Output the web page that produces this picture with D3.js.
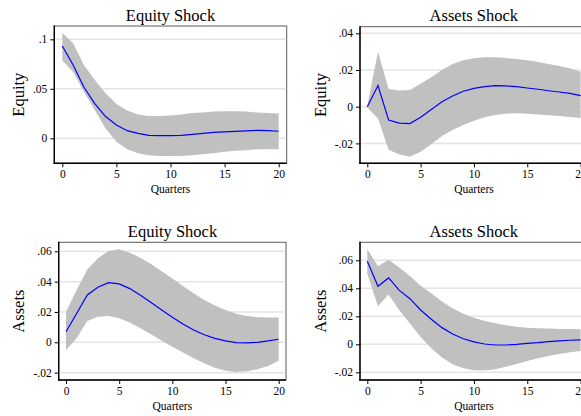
<!DOCTYPE html>
<html>
<head>
<meta charset="utf-8">
<script src="https://cdn.jsdelivr.net/npm/d3@7"></script>
<style>
  body { margin: 0; background: #fff; }
  svg { display: block; }
</style>
</head>
<body>
<svg id="chart" width="581" height="416"></svg>
<script>
// quarters after the shock
const quarters = [0, 1, 2, 3, 4, 5, 6, 7, 8, 9, 10, 11, 12, 13, 14, 15, 16, 17, 18, 19, 20];
const xTicks = [0, 5, 10, 15, 20];

// equity response to equity shock
const eqEqIrf = [0.0933, 0.074, 0.0515, 0.035, 0.022, 0.0135, 0.0077, 0.005, 0.003, 0.0027, 0.0027, 0.003, 0.004, 0.005, 0.006, 0.0064, 0.007, 0.0075, 0.008, 0.0077, 0.0071];
const eqEqHi = [0.1067, 0.096, 0.074, 0.059, 0.0455, 0.0347, 0.028, 0.024, 0.0225, 0.0225, 0.023, 0.024, 0.0256, 0.026, 0.027, 0.0273, 0.0273, 0.027, 0.026, 0.0256, 0.025];
const eqEqLo = [0.0785, 0.067, 0.047, 0.0286, 0.01, -0.0034, -0.011, -0.015, -0.017, -0.018, -0.018, -0.018, -0.017, -0.016, -0.015, -0.0135, -0.0125, -0.012, -0.011, -0.011, -0.011];

// equity response to assets shock
const eqAsIrf = [0, 0.0115, -0.0073, -0.0089, -0.0092, -0.0058, -0.0015, 0.0027, 0.0058, 0.0084, 0.01, 0.0109, 0.0115, 0.0113, 0.0109, 0.0102, 0.0095, 0.0087, 0.008, 0.0073, 0.006];
const eqAsHi = [0.0005, 0.030, 0.0097, 0.0088, 0.0091, 0.0125, 0.016, 0.02, 0.0233, 0.0253, 0.0264, 0.0269, 0.0269, 0.0265, 0.026, 0.0253, 0.0244, 0.0233, 0.0222, 0.0209, 0.019];
const eqAsLo = [-0.0005, -0.0064, -0.0235, -0.026, -0.0273, -0.0245, -0.0204, -0.016, -0.0127, -0.01, -0.0076, -0.0058, -0.0045, -0.0038, -0.0036, -0.0038, -0.0042, -0.0047, -0.0051, -0.0056, -0.0062];

// assets response to equity shock
const asEqIrf = [0.007, 0.019, 0.0312, 0.0363, 0.0393, 0.0385, 0.0354, 0.031, 0.0262, 0.0213, 0.0165, 0.0121, 0.0081, 0.005, 0.0026, 0.0009, -0.0002, -0.0004, 0, 0.0009, 0.002];
const asEqHi = [0.0202, 0.0345, 0.048, 0.0554, 0.0602, 0.0613, 0.0591, 0.0558, 0.0516, 0.0468, 0.042, 0.0371, 0.0323, 0.0279, 0.0242, 0.0213, 0.0189, 0.0174, 0.0165, 0.0163, 0.0163];
const asEqLo = [-0.005, 0.0026, 0.0141, 0.0169, 0.0174, 0.0158, 0.013, 0.0092, 0.0053, 0.0011, -0.0029, -0.0068, -0.0105, -0.0138, -0.0167, -0.0187, -0.0196, -0.0191, -0.0178, -0.0156, -0.0121];

// assets response to assets shock
const asAsIrf = [0.0593, 0.0414, 0.0474, 0.0385, 0.0326, 0.0245, 0.0179, 0.0119, 0.0074, 0.004, 0.0017, 0.0002, -0.0005, -0.0005, 0, 0.0007, 0.0012, 0.0019, 0.0024, 0.0029, 0.0031];
const asAsHi = [0.068, 0.0557, 0.0604, 0.0548, 0.0488, 0.0418, 0.0364, 0.0305, 0.0257, 0.0219, 0.019, 0.0167, 0.015, 0.0136, 0.0126, 0.0119, 0.0114, 0.0112, 0.011, 0.011, 0.0107];
const asAsLo = [0.0504, 0.0272, 0.0355, 0.0243, 0.0148, 0.0052, -0.0029, -0.0095, -0.0143, -0.0171, -0.0186, -0.0188, -0.0179, -0.016, -0.014, -0.0119, -0.01, -0.0083, -0.0069, -0.0057, -0.0048];

const yTicksTL = [0, 0.05, 0.1];
const yTicksTR = [-0.02, 0, 0.02, 0.04];
const yTicksBot = [-0.02, 0, 0.02, 0.04, 0.06];

const serif = '"Liberation Serif", "Times New Roman", serif';

// stata style labels: .05, -.02
const fmt = v => v === 0 ? "0" : String(v).replace("0.", ".");

const panels = [
    { title: "Equity Shock", ylab: "Equity", irf: eqEqIrf, hi: eqEqHi, lo: eqEqLo, yTicks: yTicksTL,
      box: { l: 54.3, r: 286.7, t: 26, b: 163.3 }, xPx: [62.3, 278.7], yVal: [0, 0.1], yPx: [138.3, 39.3],
      titleX: 170.5, titleY: 20.7, ylabX: 24 },
    { title: "Assets Shock", ylab: "Equity", irf: eqAsIrf, hi: eqAsHi, lo: eqAsLo, yTicks: yTicksTR,
      box: { l: 360, r: 588.6, t: 26.7, b: 163.3 }, xPx: [367.3, 580.6], yVal: [0, 0.04], yPx: [106.7, 33.3],
      titleX: 473.8, titleY: 20.7, ylabX: 325.7 },
    { title: "Equity Shock", ylab: "Assets", irf: asEqIrf, hi: asEqHi, lo: asEqLo, yTicks: yTicksBot,
      box: { l: 58.7, r: 286, t: 242.3, b: 380 }, xPx: [66, 278.7], yVal: [0, 0.06], yPx: [342.3, 251.3],
      titleX: 172.5, titleY: 237.3, ylabX: 24 },
    { title: "Assets Shock", ylab: "Assets", irf: asAsIrf, hi: asAsHi, lo: asAsLo, yTicks: yTicksBot,
      box: { l: 360, r: 588.6, t: 242.3, b: 380 }, xPx: [367.3, 580.6], yVal: [0, 0.06], yPx: [344.3, 260.3],
      titleX: 473.8, titleY: 237.3, ylabX: 326 }
];

const svg = d3.select("#chart");

function drawPanel(p) {
    const g = svg.append("g");
    const box = p.box;

    const x = d3.scaleLinear().domain([0, 20]).range(p.xPx);
    const y = d3.scaleLinear().domain(p.yVal).range(p.yPx);

    // plot region frame
    g.append("rect")
        .attr("x", box.l).attr("y", box.t)
        .attr("width", box.r - box.l).attr("height", box.b - box.t)
        .attr("fill", "#fff")
        .attr("stroke", "#5a5a5a")
        .attr("stroke-width", 1);

    // horizontal gridlines
    g.selectAll("line.grid")
        .data(p.yTicks)
        .join("line")
        .attr("class", "grid")
        .attr("x1", box.l + 1).attr("x2", box.r - 0.5)
        .attr("y1", d => y(d)).attr("y2", d => y(d))
        .attr("stroke", "#e4e4e4")
        .attr("stroke-width", 1.5);

    // confidence band
    const area = d3.area()
        .x((d, i) => x(quarters[i]))
        .y0((d, i) => y(p.lo[i]))
        .y1((d, i) => y(p.hi[i]));

    g.append("path")
        .datum(quarters)
        .attr("d", area)
        .attr("fill", "#c0c0c0");

    // impulse response
    const line = d3.line()
        .x((d, i) => x(quarters[i]))
        .y((d, i) => y(p.irf[i]));

    g.append("path")
        .datum(quarters)
        .attr("d", line)
        .attr("fill", "none")
        .attr("stroke", "#0000ff")
        .attr("stroke-width", 1.2);

    // y axis
    const yAxis = g.append("g")
        .attr("transform", `translate(${box.l},0)`)
        .call(d3.axisLeft(y).tickValues(p.yTicks).tickFormat(fmt).tickSize(4).tickPadding(3));
    yAxis.select(".domain").remove();
    yAxis.attr("font-family", serif).attr("font-size", 11.5);
    yAxis.selectAll("text").attr("fill", "#000");
    yAxis.selectAll("line").attr("stroke", "#000");

    // x axis
    const xAxis = g.append("g")
        .attr("transform", `translate(0,${box.b})`)
        .call(d3.axisBottom(x).tickValues(xTicks).tickFormat(d3.format("d")).tickSize(4).tickPadding(3));
    xAxis.select(".domain").remove();
    xAxis.attr("font-family", serif).attr("font-size", 11.5);
    xAxis.selectAll("text").attr("fill", "#000");
    xAxis.selectAll("line").attr("stroke", "#000");

    // axis lines
    g.append("line")
        .attr("x1", box.l).attr("x2", box.l)
        .attr("y1", box.t - 0.5).attr("y2", box.b + 0.7)
        .attr("stroke", "#000").attr("stroke-width", 1.4);
    g.append("line")
        .attr("x1", box.l - 0.7).attr("x2", box.r)
        .attr("y1", box.b).attr("y2", box.b)
        .attr("stroke", "#000").attr("stroke-width", 1.4);

    // x title
    g.append("text")
        .attr("x", (p.xPx[0] + p.xPx[1]) / 2)
        .attr("y", box.b + 30)
        .attr("text-anchor", "middle")
        .attr("font-family", serif)
        .attr("font-size", 11.5)
        .text("Quarters");

    // y title
    g.append("text")
        .attr("transform", `translate(${p.ylabX},${(box.t + box.b) / 2}) rotate(-90)`)
        .attr("text-anchor", "middle")
        .attr("font-family", serif)
        .attr("font-size", 16.5)
        .text(p.ylab);

    // panel title
    g.append("text")
        .attr("x", p.titleX)
        .attr("y", p.titleY)
        .attr("text-anchor", "middle")
        .attr("font-family", serif)
        .attr("font-size", 16.5)
        .text(p.title);
}

panels.forEach(drawPanel);
</script>
</body>
</html>
